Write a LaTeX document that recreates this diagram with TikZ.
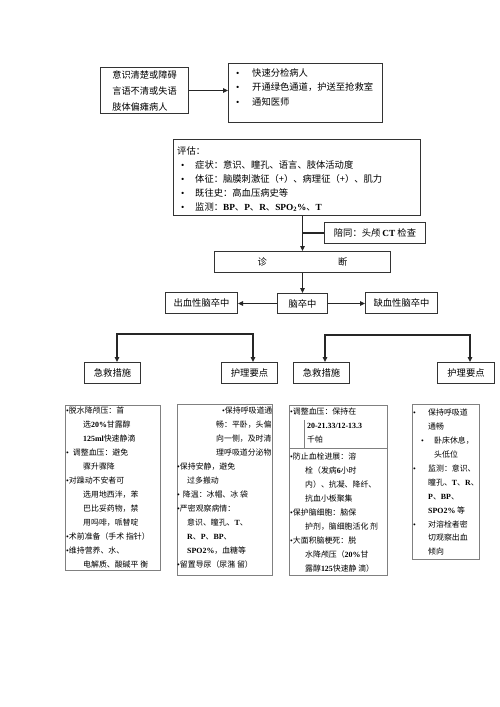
\documentclass[tikz,border=0pt]{standalone}
\usepackage{fontspec}
\setmainfont{Noto Sans CJK SC}
\newfontfamily\latf{Liberation Serif}
\usetikzlibrary{arrows.meta}
\newcommand\la[1]{{\latf\bfseries #1}}
\newcommand\bu{{\latf •}}
\newcommand\ind[1]{\hspace*{#1pt}}
\begin{document}
\begin{tikzpicture}[x=1pt,y=-1pt,
  box/.style={draw=black!80, line width=1pt, inner sep=0pt, anchor=north west},
  cbox/.style={draw=black!50, line width=0.6pt, inner sep=0pt, anchor=north west},
  txt/.style={inner sep=0pt, anchor=north west, align=left},
  big/.style={font=\fontsize{9.3}{10}\selectfont},
  small/.style={font=\fontsize{7.9}{14}\selectfont},
  conn/.style={draw=black!85, line width=1.1pt},
  arr/.style={conn, -{Triangle[length=5pt,width=4.5pt]}}]
\fill[white] (0,0) rectangle (500,707);
\useasboundingbox (0,0) rectangle (500,707);

% top row
\node[box, minimum width=88pt, minimum height=46pt, align=left,
      font=\fontsize{9.2}{16}\selectfont] (a) at (100,67)
  {意识清楚或障碍\\言语不清或失语\\肢体偏瘫病人};
\node[box, minimum width=154pt, minimum height=59pt] (b) at (228,63) {};
\node[txt, font=\fontsize{9.3}{14.5}\selectfont] (bt) at (236,68)
  {\makebox[16pt][l]{\bu}快速分检病人\\
   \makebox[16pt][l]{\bu}开通绿色通道，护送至抢救室\\
   \makebox[16pt][l]{\bu}通知医师};
\draw[arr] (a.east) -- (a.east -| b.west);

% assessment
\node[box, minimum width=247pt, minimum height=76pt] (e) at (173,139) {};
\node[txt, font=\fontsize{9.3}{14}\selectfont] (et) at (177,146)
  {评估：\\
   \makebox[18pt][l]{\hspace*{4pt}\bu}症状：意识、瞳孔、语言、肢体活动度\\
   \makebox[18pt][l]{\hspace*{4pt}\bu}体征：脑膜刺激征（+）、病理征（+）、肌力\\
   \makebox[18pt][l]{\hspace*{4pt}\bu}既往史：高血压病史等\\
   \makebox[18pt][l]{\hspace*{4pt}\bu}监测：\la{BP}、\la{P}、\la{R}、\la{SPO\textsubscript{2}\%}、\la{T}};

\node[box, big, minimum width=101pt, minimum height=21pt] (p) at (324,222)
  {陪同：头颅 \la{CT} 检查};
\node[box, big, minimum width=176pt, minimum height=21pt] (d) at (214,251)
  {诊\hspace{71pt}断};
\draw[arr] (e.south -| d.north) -- (d.north);
\draw[conn] (p.west -| d.north) -- (p.west);

% stroke types
\node[box, big, minimum width=50pt, minimum height=20pt] (s) at (277,293) {脑卒中};
\node[box, big, minimum width=72pt, minimum height=21pt] (hem) at (165,292) {出血性脑卒中};
\node[box, big, minimum width=72pt, minimum height=21pt] (isc) at (365,292) {缺血性脑卒中};
\draw[arr] (d.south) -- (s.north);
\draw[arr] (s.west) -- (s.west -| hem.east);
\draw[arr] (s.east) -- (s.east -| isc.west);

% second tier headers
\node[box, big, minimum width=56pt, minimum height=21pt] (l1) at (84,362) {急救措施};
\node[box, big, minimum width=56pt, minimum height=21pt] (l2) at (221,362) {护理要点};
\node[box, big, minimum width=56pt, minimum height=21pt] (r1) at (293,362) {急救措施};
\node[box, big, minimum width=57pt, minimum height=21pt] (r2) at (437,362) {护理要点};
\coordinate (lk1) at (117,334);
\coordinate (lk2) at (253,334);
\coordinate (rk1) at (325,335);
\coordinate (rk2) at (470,335);
\draw[arr] (lk2) -- (lk1) -- (lk1 |- l1.north);
\draw[arr] (lk1) -- (lk2) -- (lk2 |- l2.north);
\draw[arr] (rk2) -- (rk1) -- (rk1 |- r1.north);
\draw[arr] (rk1) -- (rk2) -- (rk2 |- r2.north);

% content boxes
\node[cbox, minimum width=95pt, minimum height=165pt] (c1) at (65,405) {};
\node[txt, small] (c1t) at (66,407)
  {\bu 脱水降颅压：首\\
   \ind{17}选\la{20\%}甘露醇\\
   \ind{17}\la{125ml}快速静滴\\
   \bu\hspace{4pt}调整血压：避免\\
   \ind{17}骤升骤降\\
   \bu 对躁动不安者可\\
   \ind{17}选用地西泮，苯\\
   \ind{17}巴比妥药物，禁\\
   \ind{17}用吗啡，哌替啶\\
   \bu 术前准备（手术 指针）\\
   \bu 维持营养、水、\\
   \ind{17}电解质、酸碱平 衡};

\node[cbox, minimum width=95pt, minimum height=171pt] (c2) at (177,404) {};
\node[txt, small] (c2t) at (177,407)
  {\ind{45}\bu 保持呼吸道通\\
   \ind{39}畅：平卧，头偏\\
   \ind{39}向一侧，及时清\\
   \ind{39}理呼吸道分泌物\\
   \bu 保持安静，避免\\
   \ind{10}过多搬动\\
   \bu\hspace{3pt}降温：冰帽、冰 袋\\
   \bu 严密观察病情：\\
   \ind{10}意识、瞳孔、\la{T}、\\
   \ind{10}\la{R}、\la{P}、\la{BP}、\\
   \ind{10}\la{SPO2\%}，血糖等\\
   \bu 留置导尿（尿潴 留）};

\node[cbox, minimum width=98pt, minimum height=43pt] (c3a) at (289,405) {};
\draw[draw=black!50, line width=0.6pt] ([xshift=15pt]c3a.south west) -- ++(0,-29);
\node[txt, small] (c3at) at (290,408)
  {\bu 调整血压：保持在\\
   \ind{17}\la{20-21.33/12-13.3}\\
   \ind{17}千帕};
\node[cbox, minimum width=98pt, minimum height=127pt] (c3b) at (289,448) {};
\node[txt, small] (c3bt) at (290,453)
  {\bu 防止血栓进展：溶\\
   \ind{15}栓（发病\la{6}小时\\
   \ind{15}内）、抗凝、降纤、\\
   \ind{15}抗血小板聚集\\
   \bu 保护脑细胞：脑保\\
   \ind{15}护剂，脑细胞活化 剂\\
   \bu 大面积脑梗死：脱\\
   \ind{15}水降颅压（\la{20\%}甘\\
   \ind{15}露醇\la{125}快速静 滴）};

\node[cbox, minimum width=67pt, minimum height=155pt] (c4) at (412,404) {};
\node[txt, font=\fontsize{7.9}{13.9}\selectfont] (c4t) at (413,409)
  {\makebox[15pt][l]{\bu}保持呼吸道\\
   \ind{15}通畅\\
   \ind{8}\makebox[13pt][l]{\bu}卧床休息，\\
   \ind{21}头低位\\
   \makebox[15pt][l]{\bu}监测：意识、\\
   \ind{15}瞳孔、\la{T}、\la{R}、\\
   \ind{15}\la{P}、\la{BP}、\\
   \ind{15}\la{SPO2\%} 等\\
   \makebox[15pt][l]{\bu}对溶栓者密\\
   \ind{15}切观察出血\\
   \ind{15}倾向};
\end{tikzpicture}
\end{document}
